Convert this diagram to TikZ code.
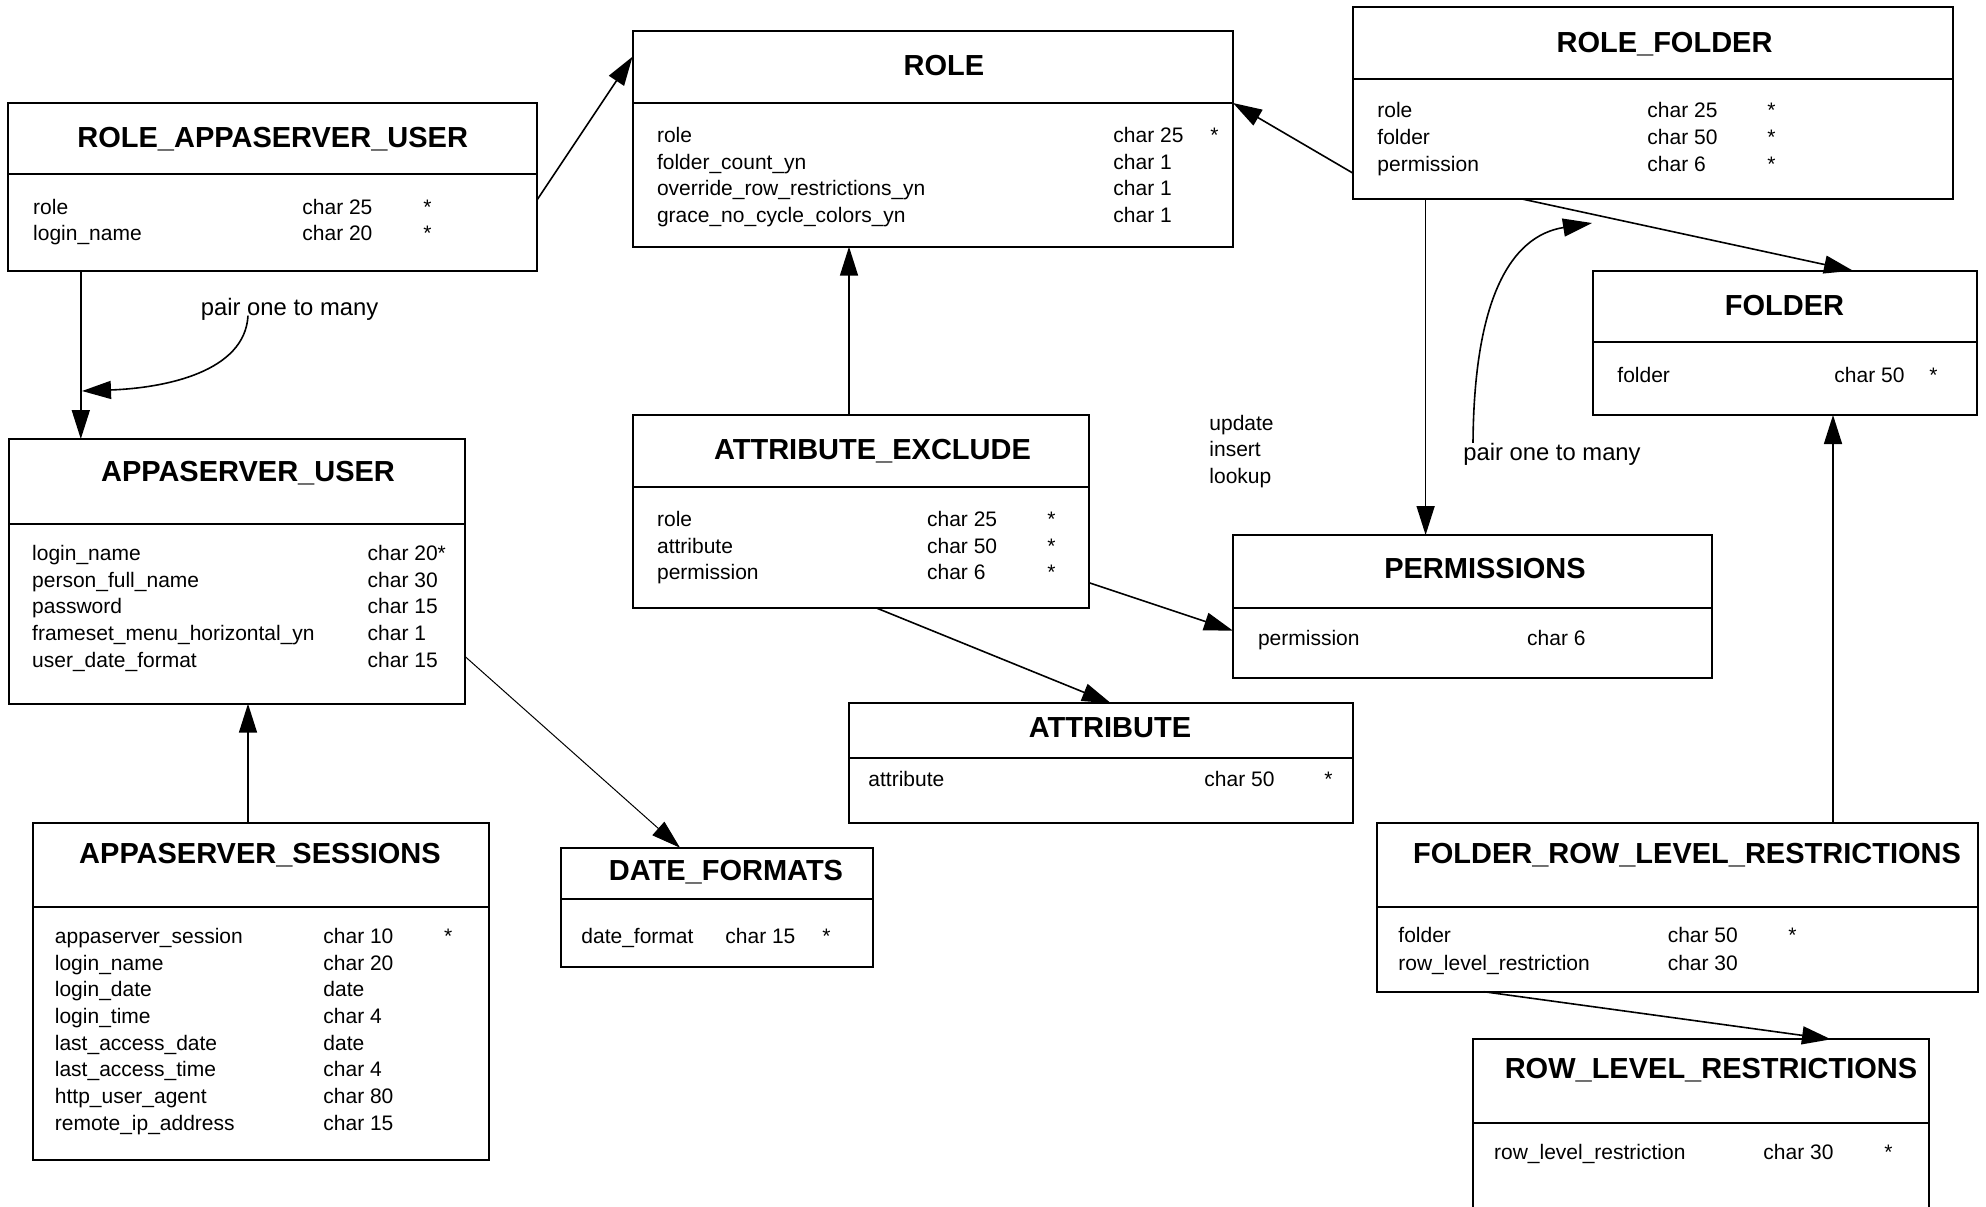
\documentclass[tikz,border=0pt]{standalone}
\usepackage{fontspec}
\setmainfont{Liberation Sans}
\usetikzlibrary{arrows.meta,calc}
\newcommand\bodyfnt{\fontsize{10.5pt}{12pt}\selectfont}
\newcommand\titlefnt{\fontsize{14.5pt}{17pt}\selectfont\bfseries}
\newcommand\lblfnt{\fontsize{11.9pt}{14pt}\selectfont}
\newcounter{fldc}
\tikzset{
  tbl/.style={draw, line width=1pt, inner sep=0pt, outer sep=0pt, rectangle},
  tblline/.style={line width=1pt},
  ttl/.style={font=\titlefnt, inner sep=0pt, text height=10.4pt, text depth=0pt, anchor=center},
  fld/.style={font=\bodyfnt, inner sep=0pt, text height=7.5pt, text depth=0pt, anchor=west},
  lbl/.style={font=\lblfnt, inner sep=0pt, text height=8.5pt, text depth=0pt, anchor=center},
  conn/.style={line width=0.8pt, -{Triangle[length=14.5pt,width=9pt]}},
  thinconn/.style={line width=0.5pt, -{Triangle[length=14.5pt,width=9pt]}},
}
% name, left, top, right, bottom, divider
\newcommand\tablebox[6]{%
  \node[tbl, anchor=north west, minimum width={(#4-#2)*0.5pt}, minimum height={(#5-#3)*0.5pt}] (#1) at (#2,#3) {};
  \draw[tblline] (#1.west |- 0,#6) -- (#1.east |- 0,#6);
}
\newcommand\fldtxt[3]{\stepcounter{fldc}\node[fld] (f\arabic{fldc}) at (#1,#2) {#3};}
\newcommand\titletxt[4]{\node[ttl] (#1) at (#2,#3) {#4};}
\begin{document}
\begin{tikzpicture}[x=0.5pt, y={(0pt,-0.5pt)}]
\clip (0,0) rectangle (1986,1206);
\fill[white] (0,0) rectangle (1986,1206);

% ROLE_APPASERVER_USER
\tablebox{rau}{8.4}{102.7}{537}{270.7}{174.3}
\titletxt{rau-t}{272.7}{136.7}{ROLE\_APPASERVER\_USER}
\fldtxt{32.8}{206.7}{role}\fldtxt{302}{206.7}{char 25}\fldtxt{423}{206.7}{*}
\fldtxt{32.8}{233.3}{login\_name}\fldtxt{302}{233.3}{char 20}\fldtxt{423}{233.3}{*}

% ROLE
\tablebox{role}{632.5}{31}{1233}{246.7}{102.7}
\titletxt{role-t}{944}{65}{ROLE}
\fldtxt{656.6}{135}{role}\fldtxt{1113}{135}{char 25}\fldtxt{1210}{135}{*}
\fldtxt{656.6}{161.7}{folder\_count\_yn}\fldtxt{1113}{161.7}{char 1}
\fldtxt{656.6}{188.3}{override\_row\_restrictions\_yn}\fldtxt{1113}{188.3}{char 1}
\fldtxt{656.6}{215}{grace\_no\_cycle\_colors\_yn}\fldtxt{1113}{215}{char 1}

% ROLE_FOLDER
\tablebox{rf}{1352.7}{6.7}{1953}{199}{79}
\titletxt{rf-t}{1664.5}{41.7}{ROLE\_FOLDER}
\fldtxt{1377}{110}{role}\fldtxt{1647}{110}{char 25}\fldtxt{1767}{110}{*}
\fldtxt{1377}{136.7}{folder}\fldtxt{1647}{136.7}{char 50}\fldtxt{1767}{136.7}{*}
\fldtxt{1377}{164}{permission}\fldtxt{1647}{164}{char 6}\fldtxt{1767}{164}{*}

% FOLDER
\tablebox{folder}{1592.7}{270.7}{1977}{415}{342.3}
\titletxt{folder-t}{1784.5}{305}{FOLDER}
\fldtxt{1617}{375}{folder}\fldtxt{1834}{375}{char 50}\fldtxt{1929}{375}{*}

% APPASERVER_USER
\tablebox{au}{9}{439}{465.3}{703.7}{524}
\titletxt{au-t}{248}{471}{APPASERVER\_USER}
\fldtxt{31.8}{553.3}{login\_name}\fldtxt{367.3}{553.3}{char 20*}
\fldtxt{31.8}{580}{person\_full\_name}\fldtxt{367.3}{580}{char 30}
\fldtxt{31.8}{606}{password}\fldtxt{367.3}{606}{char 15}
\fldtxt{31.8}{633.3}{frameset\_menu\_horizontal\_yn}\fldtxt{367.3}{633.3}{char 1}
\fldtxt{31.8}{660}{user\_date\_format}\fldtxt{367.3}{660}{char 15}

% ATTRIBUTE_EXCLUDE
\tablebox{ae}{632.9}{415}{1089}{607.7}{487.3}
\titletxt{ae-t}{872.5}{449.3}{ATTRIBUTE\_EXCLUDE}
\fldtxt{656.7}{519}{role}\fldtxt{926.7}{519}{char 25}\fldtxt{1047}{519}{*}
\fldtxt{656.7}{545.7}{attribute}\fldtxt{926.7}{545.7}{char 50}\fldtxt{1047}{545.7}{*}
\fldtxt{656.7}{572.3}{permission}\fldtxt{926.7}{572.3}{char 6}\fldtxt{1047}{572.3}{*}

% ATTRIBUTE
\tablebox{attr}{848.6}{703.3}{1353}{822.7}{757.7}
\titletxt{attr-t}{1110}{726.7}{ATTRIBUTE}
\fldtxt{868}{779}{attribute}\fldtxt{1204}{779}{char 50}\fldtxt{1324}{779}{*}

% PERMISSIONS
\tablebox{perm}{1233}{535}{1712}{678.3}{608.3}
\titletxt{perm-t}{1485}{568.3}{PERMISSIONS}
\fldtxt{1257.6}{638.3}{permission}\fldtxt{1526.8}{638.3}{char 6}

% APPASERVER_SESSIONS
\tablebox{as}{33.3}{822.7}{489}{1160}{906.7}
\titletxt{as-t}{260}{853.3}{APPASERVER\_SESSIONS}
\fldtxt{54.5}{936}{appaserver\_session}\fldtxt{323}{936}{char 10}\fldtxt{443.6}{936}{*}
\fldtxt{54.5}{962.7}{login\_name}\fldtxt{323}{962.7}{char 20}
\fldtxt{54.5}{989.3}{login\_date}\fldtxt{323}{989.3}{date}
\fldtxt{54.5}{1016}{login\_time}\fldtxt{323}{1016}{char 4}
\fldtxt{54.5}{1042.7}{last\_access\_date}\fldtxt{323}{1042.7}{date}
\fldtxt{54.5}{1069.3}{last\_access\_time}\fldtxt{323}{1069.3}{char 4}
\fldtxt{54.5}{1096}{http\_user\_agent}\fldtxt{323}{1096}{char 80}
\fldtxt{54.5}{1122.7}{remote\_ip\_address}\fldtxt{323}{1122.7}{char 15}

% DATE_FORMATS
\tablebox{df}{561.4}{847.7}{872.6}{966.7}{899}
\titletxt{df-t}{726}{870}{DATE\_FORMATS}
\fldtxt{581}{936}{date\_format}\fldtxt{725}{936}{char 15}\fldtxt{822}{936}{*}

% FOLDER_ROW_LEVEL_RESTRICTIONS
\tablebox{frlr}{1376.8}{822.7}{1977.6}{991.7}{906.7}
\titletxt{frlr-t}{1687}{853.3}{FOLDER\_ROW\_LEVEL\_RESTRICTIONS}
\fldtxt{1398}{935}{folder}\fldtxt{1667.4}{935}{char 50}\fldtxt{1788}{935}{*}
\fldtxt{1398}{962.7}{row\_level\_restriction}\fldtxt{1667.4}{962.7}{char 30}

% ROW_LEVEL_RESTRICTIONS (runs past the bottom edge)
\tablebox{rlr}{1473}{1039.3}{1929}{1240}{1123.3}
\titletxt{rlr-t}{1711}{1068.3}{ROW\_LEVEL\_RESTRICTIONS}
\fldtxt{1493.7}{1151.7}{row\_level\_restriction}\fldtxt{1763}{1151.7}{char 30}\fldtxt{1884}{1151.7}{*}

% free labels
\node[fld] (upd) at (1209,423.3) {update};
\node[fld] (ins) at (1209,449.3) {insert};
\node[fld] (lku) at (1209,476) {lookup};
\node[lbl] (pair1) at (289.6,306.7) {pair one to many};
\node[lbl] (pair2) at (1552,451.7) {pair one to many};

% connectors
\draw[conn] (rau.east |- 0,200) -- (role.west |- 0,56.7);
\draw[conn] (rau.south -| 80.8,0) -- (au.north -| 80.8,0);
\draw[conn] (rf.west |- 0,173) -- (role.east |- 0,103);
\draw[conn] (rf.south -| 1522,0) -- (folder.north -| 1853,0);
\draw[conn] (rf.south -| 1425.6,0) -- (perm.north -| 1425.6,0);
\draw[conn] (ae.north -| 849,0) -- (role.south -| 849,0);
\draw[conn] (ae.east |- 0,582.7) -- (perm.west |- 0,630.7);
\draw[conn] (ae.south -| 875.7,0) -- (attr.north -| 1111,0);
\draw[conn] (as.north -| 248,0) -- (au.south -| 248,0);
\draw[thinconn] (au.east |- 0,656.7) -- (df.north -| 680,0);
\draw[conn] (frlr.north -| 1833,0) -- (folder.south -| 1833,0);
\draw[conn] (frlr.south -| 1483.8,0) -- (rlr.north -| 1831,0);

% curved "pair one to many" arrows
\coordinate (c1) at (82,391);
\coordinate (c2) at (1592,223);
\draw[conn] (pair1.south -| 248,0) .. controls (245,372) and (165,388) .. (c1);
\draw[conn] (pair2.north -| 1473,0) .. controls (1474,300) and (1510,236) .. (c2);
\end{tikzpicture}
\end{document}
